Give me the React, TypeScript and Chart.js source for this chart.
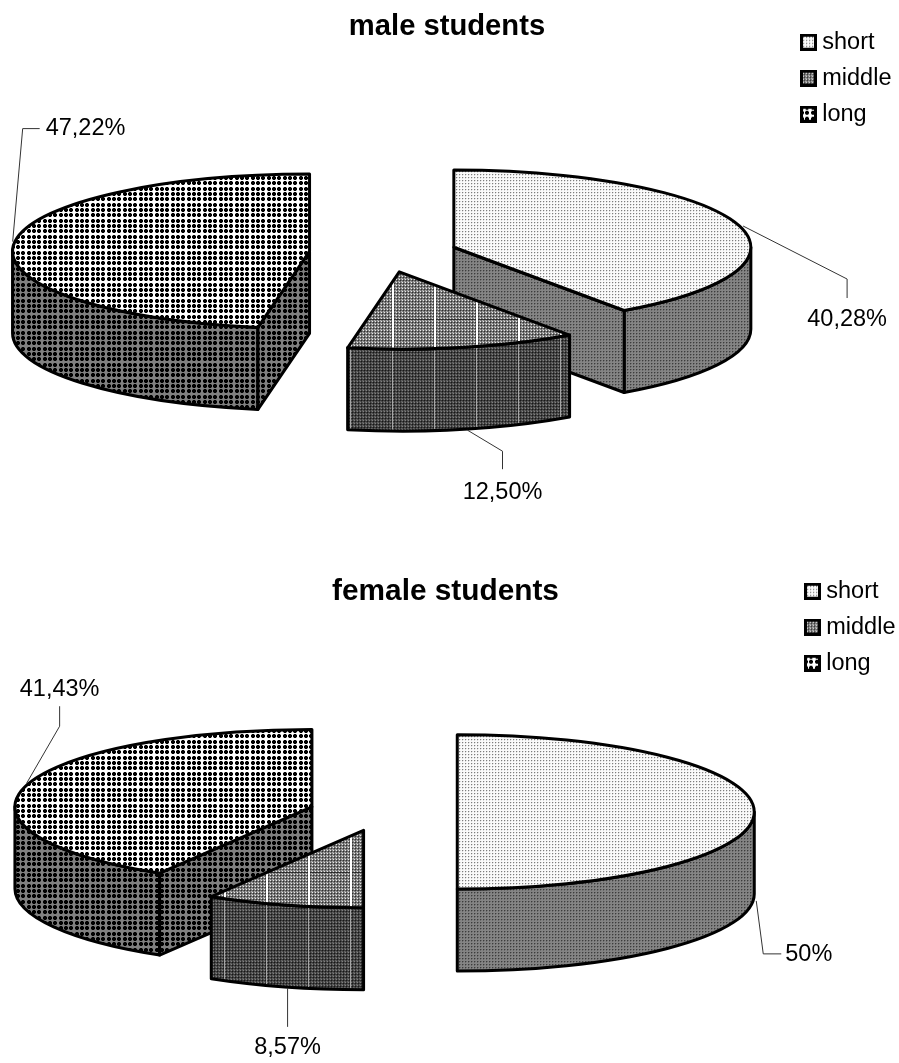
import React, { useEffect, useRef } from "react";
import { Chart, registerables } from "chart.js";

Chart.register(...registerables);

// Survey results, one pie per group. Slice order: short, middle, long.
const categories = ["short", "middle", "long"];
const maleShares = [40.28, 12.5, 47.22];
const femaleShares = [50, 8.57, 41.43];
const maleLabels = ["40,28%", "12,50%", "47,22%"];
const femaleLabels = ["50%", "8,57%", "41,43%"];

const FONT = "'Liberation Sans', Arial, sans-serif";
const LABEL_SIZE = 23.5;
const RADIUS = 297;
const EXPLODE = 74;
const TILT = 0.26; // vertical squash of the pie's top face
const DEPTH = 82; // extrusion height of the pie walls

type Leader = { onBase: boolean; points: number[][]; text: number[]; align: CanvasTextAlign };

// Leader polylines, relative to the point of the rim at each slice's mid-angle.
const maleLeaders: Leader[] = [
  { onBase: false, points: [[6, 2], [110, 55], [110, 74]], text: [110, 95], align: "center" },
  { onBase: true, points: [[4, 1], [39, 22], [39, 40]], text: [39, 63], align: "center" },
  { onBase: false, points: [[-1, -3], [9, -116], [26, -116]], text: [32, -116], align: "left" },
];
const femaleLeaders: Leader[] = [
  { onBase: true, points: [[2, 7], [9, 60], [27, 60]], text: [31, 61], align: "left" },
  { onBase: true, points: [[3, 1], [3, 40]], text: [3, 61], align: "center" },
  { onBase: false, points: [[1, -3], [34, -60], [34, -80]], text: [34, -97], align: "center" },
];

function makeTile(w: number, h: number, paint: (c: CanvasRenderingContext2D) => void) {
  const tile = document.createElement("canvas");
  tile.width = w;
  tile.height = h;
  paint(tile.getContext("2d")!);
  return tile;
}

const hex = (v: number) => `rgb(${v},${v},${v})`;

function stipple(base: number, dot: number, soft: number) {
  return makeTile(3, 3, (c) => {
    c.fillStyle = hex(base);
    c.fillRect(0, 0, 3, 3);
    c.fillStyle = hex(soft);
    c.fillRect(1, 0, 1, 1);
    c.fillRect(0, 1, 1, 1);
    c.fillStyle = hex(dot);
    c.fillRect(0, 0, 1, 1);
  });
}

function dots(base: number, corner: number) {
  const steps = [0, 5, 11];
  return makeTile(16, 16, (c) => {
    c.fillStyle = hex(base);
    c.fillRect(0, 0, 16, 16);
    for (const y of steps)
      for (const x of steps) {
        c.fillStyle = hex(corner);
        c.fillRect(x, y, 4, 4);
        c.fillStyle = "#000";
        c.fillRect(x, y + 1, 4, 2);
        c.fillRect(x + 1, y, 2, 4);
      }
  });
}

function weave(matrix: number[][], stripe: number, rule: boolean) {
  return makeTile(42, 60, (c) => {
    for (let y = 0; y < 60; y++)
      for (let x = 0; x < 42; x++) {
        c.fillStyle = hex(matrix[y % 3][x % 3]);
        c.fillRect(x, y, 1, 1);
      }
    if (rule) {
      c.fillStyle = "rgba(30,30,30,0.7)";
      c.fillRect(0, 19, 42, 1);
    }
    c.fillStyle = hex(stripe);
    c.fillRect(14, 0, rule ? 2 : 1, 60);
  });
}

function swatch(pattern: CanvasPattern) {
  return makeTile(17, 17, (c) => {
    c.fillStyle = pattern;
    c.fillRect(0, 0, 17, 17);
    c.strokeStyle = "#000";
    c.lineWidth = 3;
    c.strokeRect(1.5, 1.5, 14, 14);
  });
}

function patterns() {
  const c = document.createElement("canvas").getContext("2d")!;
  const rep = (t: HTMLCanvasElement) => c.createPattern(t, "repeat")!;
  return {
    tops: [
      rep(stipple(250, 125, 220)),
      rep(weave([[232, 104, 136], [104, 48, 104], [136, 104, 176]], 255, true)),
      rep(dots(255, 175)),
    ],
    walls: [
      rep(stipple(132, 60, 105)),
      rep(weave([[128, 56, 84], [56, 24, 56], [84, 56, 100]], 165, false)),
      rep(dots(128, 85)),
    ],
  };
}

// Draws every arc of the pie as an extruded slice, keeping the arc geometry
// that the doughnut controller computed and squashing it on to the tilted plane.
const pie3d = {
  id: "pie3d",
  afterLayout(chart: any, _a: any, opts: any) {
    chart.legend.left = opts.legendAt[0];
    chart.legend.top = opts.legendAt[1];
    chart.legend.right = chart.width;
    chart.titleBlock.left = 0;
    chart.titleBlock.right = opts.titleSpan;
  },
  beforeDatasetDraw(chart: any, args: any, opts: any) {
    const { ctx } = chart;
    const arcs = args.meta.data.map((el: any, i: number) => {
      const { x, y, startAngle: a0, endAngle: a1, outerRadius: r } = el.getProps(
        ["x", "y", "startAngle", "endAngle", "outerRadius"],
        true
      );
      const mid = (a0 + a1) / 2;
      const off = el.options.offset;
      return {
        i, a0, a1, r, mid,
        cx: x + Math.cos(mid) * off,
        cy: y + Math.sin(mid) * off * TILT,
        top: el.options.backgroundColor,
        wall: opts.walls[i],
      };
    });

    ctx.save();
    ctx.strokeStyle = "#000";
    ctx.lineWidth = 3;
    ctx.lineJoin = "round";
    const shape = (fill: any) => {
      ctx.fillStyle = fill;
      ctx.fill();
      ctx.stroke();
    };
    const rimAt = (s: any, a: number) => [s.cx + Math.cos(a) * s.r, s.cy + Math.sin(a) * s.r * TILT];
    const radialWall = (s: any, a: number) => {
      const [px, py] = rimAt(s, a);
      ctx.beginPath();
      ctx.moveTo(s.cx, s.cy);
      ctx.lineTo(px, py);
      ctx.lineTo(px, py + DEPTH);
      ctx.lineTo(s.cx, s.cy + DEPTH);
      ctx.closePath();
      shape(s.wall);
    };

    // Slices nearer the viewer are painted last.
    [...arcs].sort((p, q) => p.cy - q.cy).forEach((s: any) => {
      const from = Math.max(s.a0, 0);
      const to = Math.min(s.a1, Math.PI);
      if (to > from) {
        ctx.beginPath();
        ctx.ellipse(s.cx, s.cy, s.r, s.r * TILT, 0, from, to);
        ctx.ellipse(s.cx, s.cy + DEPTH, s.r, s.r * TILT, 0, to, from, true);
        ctx.closePath();
        shape(s.wall);
      }
      if (-Math.cos(s.a0) > 1e-6) radialWall(s, s.a0);
      if (Math.cos(s.a1) > 1e-6) radialWall(s, s.a1);
      ctx.beginPath();
      ctx.moveTo(s.cx, s.cy);
      ctx.ellipse(s.cx, s.cy, s.r, s.r * TILT, 0, s.a0, s.a1);
      ctx.closePath();
      shape(s.top);
    });

    // Value labels with their leader lines.
    ctx.lineWidth = 1;
    ctx.strokeStyle = "#333";
    ctx.fillStyle = "#000";
    ctx.font = `${LABEL_SIZE}px ${FONT}`;
    ctx.textBaseline = "middle";
    arcs.forEach((s: any) => {
      const lead: Leader = opts.leaders[s.i];
      const [ax, ay0] = rimAt(s, s.mid);
      const ay = lead.onBase ? ay0 + DEPTH : ay0;
      ctx.beginPath();
      lead.points.forEach(([dx, dy], n) => {
        if (n) ctx.lineTo(ax + dx, ay + dy);
        else ctx.moveTo(ax + dx, ay + dy);
      });
      ctx.stroke();
      ctx.textAlign = lead.align;
      ctx.fillText(opts.labels[s.i], ax + lead.text[0], ay + lead.text[1]);
    });
    ctx.restore();
    return false;
  },
};

type PieProps = {
  title: string;
  titleSize: number;
  values: number[];
  labels: string[];
  leaders: Leader[];
  width: number;
  height: number;
  titleTop: number;
  titleSpan: number;
  padRight: number;
  padBottom: number;
  legendAt: number[];
};

function Pie3D(p: PieProps) {
  const ref = useRef<HTMLCanvasElement>(null);
  useEffect(() => {
    const { tops, walls } = patterns();
    const chart = new Chart(ref.current!, {
      type: "pie",
      data: {
        labels: categories,
        datasets: [
          {
            data: p.values,
            backgroundColor: tops,
            borderColor: "#000",
            borderWidth: 2,
            offset: EXPLODE,
            hoverOffset: 0,
            radius: RADIUS,
          } as any,
        ],
      },
      plugins: [pie3d as any],
      options: {
        animation: false,
        responsive: false,
        events: [],
        layout: { padding: { left: 0, top: 0, right: p.padRight, bottom: p.padBottom } },
        plugins: {
          tooltip: { enabled: false },
          title: {
            display: true,
            text: p.title,
            color: "#000",
            font: { family: FONT, size: p.titleSize, weight: "bold" },
            padding: { top: p.titleTop, bottom: 0 },
          },
          legend: {
            position: "right",
            align: "start",
            labels: {
              color: "#000",
              font: { family: FONT, size: LABEL_SIZE },
              padding: 12.5,
              usePointStyle: true,
              pointStyleWidth: 4,
              generateLabels: () =>
                categories.map((text, i) => ({
                  text,
                  pointStyle: swatch(tops[i]),
                  fillStyle: tops[i],
                  strokeStyle: "#000",
                  lineWidth: 0,
                  index: i,
                })),
            },
          },
          pie3d: {
            walls,
            labels: p.labels,
            leaders: p.leaders,
            legendAt: p.legendAt,
            titleSpan: p.titleSpan,
          },
        },
      } as any,
    });
    return () => chart.destroy();
  }, []);
  return <canvas ref={ref} width={p.width} height={p.height} style={{ display: "block" }} />;
}

export default function App() {
  return (
    <div style={{ position: "absolute", left: 0, top: 0, width: 899 }}>
      <Pie3D
        title="male students"
        titleSize={29.2}
        values={maleShares}
        labels={maleLabels}
        leaders={maleLeaders}
        width={899}
        height={553}
        titleTop={9}
        titleSpan={894}
        padRight={25}
        padBottom={91}
        legendAt={[794, 18]}
      />
      <Pie3D
        title="female students"
        titleSize={29.8}
        values={femaleShares}
        labels={femaleLabels}
        leaders={femaleLeaders}
        width={899}
        height={510}
        titleTop={21}
        titleSpan={891}
        padRight={25}
        padBottom={49}
        legendAt={[798, 14]}
      />
    </div>
  );
}
